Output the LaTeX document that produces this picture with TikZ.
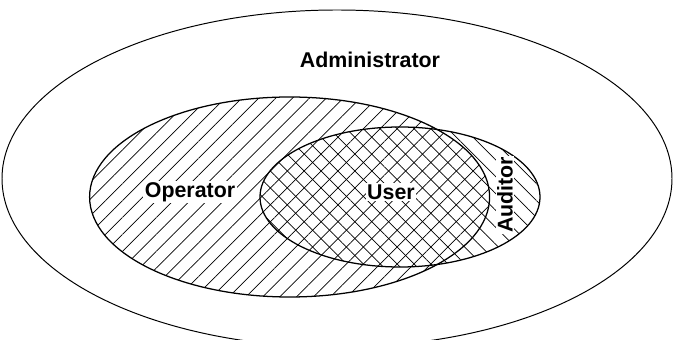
\documentclass[tikz,border=0pt]{standalone}
\usepackage{fontspec}
\setmainfont{Liberation Sans}
\usepackage{tikz}
\usetikzlibrary{patterns.meta}

\tikzset{
    setline/.style={line width=0.9pt},
    setlabel/.style={font=\fontsize{15.2}{18}\selectfont\bfseries, fill=white, inner sep=1pt},
}

\begin{document}
\begin{tikzpicture}[>=latex]
    \useasboundingbox (0,0) rectangle (16.85,-8.5);

    % Tập lớn: Administrator
    \draw[line width=0.7pt] (8.425,-4.465) ellipse (8.375 and 4.215);

    % Vùng gạch chéo
    \fill[pattern={Lines[angle=45, distance=8.5pt, line width=0.5pt]}]
        (7.24,-4.925) ellipse (5.0 and 2.5);
    \fill[pattern={Lines[angle=-45, distance=8.5pt, line width=0.5pt]}]
        (10.0,-4.925) ellipse (3.5 and 1.75);

    % Viền các tập con
    \draw[setline] (7.24,-4.925) ellipse (5.0 and 2.5);
    \draw[setline] (10.0,-4.925) ellipse (3.5 and 1.75);

    % Nhãn
    \node[setlabel, fill=none] (admin) at (9.25,-1.5) {Administrator};
    \node[setlabel] (oper) at (4.75,-4.8) {Operator};
    \node[setlabel] (user) at (9.775,-4.8) {User};
    \node[setlabel, rotate=90] (audit) at (12.625,-4.875) {Auditor};
\end{tikzpicture}
\end{document}
